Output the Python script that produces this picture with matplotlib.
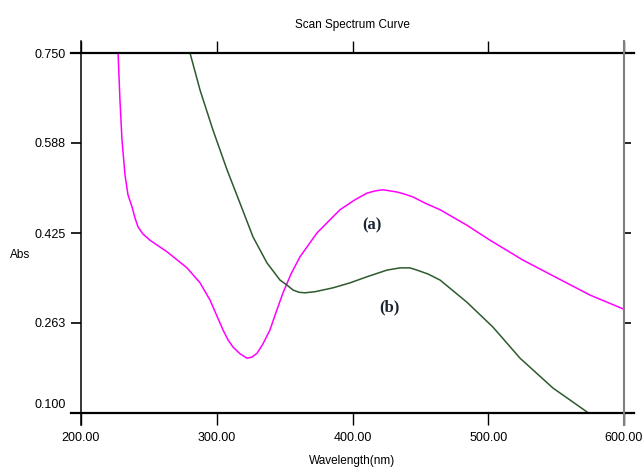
import matplotlib
matplotlib.use("Agg")
from matplotlib import pyplot as plt
from matplotlib.lines import Line2D
from matplotlib.transforms import ScaledTranslation

plt.rcParams['font.family'] = ['Liberation Sans Narrow', 'Liberation Sans', 'DejaVu Sans']

# curve (a) - magenta
wl_a = [227.3, 228.7, 230.2, 232.4, 234.6, 237.6, 239.8, 242.0, 245.7, 250.8, 263.4,
        278.1, 287.7, 295.0, 304.6, 308.3, 312.0, 317.1, 322.3, 326.0, 329.7, 334.1,
        339.2, 343.7, 348.8, 354.7, 361.3, 373.8, 390.8, 401.8, 410.7, 416.6, 422.5,
        427.7, 432.8, 438.7, 444.6, 453.4, 464.5, 484.3, 501.3, 525.6, 550.6, 574.9,
        599.3]
abs_a = [0.750, 0.665, 0.593, 0.530, 0.494, 0.472, 0.452, 0.436, 0.423, 0.412, 0.391,
         0.362, 0.335, 0.304, 0.250, 0.232, 0.219, 0.207, 0.199, 0.201, 0.208, 0.225,
         0.250, 0.282, 0.317, 0.351, 0.382, 0.425, 0.467, 0.485, 0.497, 0.501, 0.503,
         0.501, 0.499, 0.495, 0.490, 0.479, 0.467, 0.439, 0.412, 0.376, 0.344, 0.313,
         0.288]

# curve (b) - dark green
wl_b = [280.3, 287.7, 297.2, 307.6, 317.1, 326.7, 337.0, 346.6, 351.7, 356.2, 360.6,
        365.0, 372.4, 385.6, 398.2, 410.7, 425.4, 435.0, 442.4, 447.5, 455.6, 464.5,
        484.3, 503.5, 523.4, 547.7, 572.7]
abs_b = [0.750, 0.683, 0.611, 0.539, 0.479, 0.418, 0.371, 0.340, 0.331, 0.322, 0.318,
         0.317, 0.319, 0.326, 0.335, 0.346, 0.358, 0.362, 0.362, 0.358, 0.351, 0.340,
         0.300, 0.255, 0.199, 0.145, 0.102]

xticks = [200, 300, 400, 500, 600]
yticks = [0.750, 0.588, 0.425, 0.263, 0.100]

fig = plt.figure(figsize=(6.43, 4.71), dpi=100)
ax = fig.add_axes([81 / 643, 1 - 413 / 471, 543 / 643, 360 / 471])

ax.plot(wl_a, abs_a, color='#ff00ff', lw=1.1)
ax.plot(wl_b, abs_b, color='#2d5a2d', lw=1.1)

ax.set_xlim(200, 600)
ax.set_ylim(0.100, 0.750)

for s in ax.spines.values():
    s.set_visible(False)

# frame lines drawn by hand, they stick out a bit like the original
tr = ax.transAxes
ext = 10 / 543
ax.add_line(Line2D([-ext, 1 + ext], [1, 1], transform=tr, color='black', lw=1.6, clip_on=False))
ax.add_line(Line2D([-ext, 1 + ext], [0, 0], transform=tr, color='black', lw=1.6, clip_on=False))
vext = 12 / 360
ax.add_line(Line2D([0, 0], [-vext, 1 + vext], transform=tr, color='black', lw=1.1, clip_on=False))
ax.add_line(Line2D([1, 1], [-vext, 1 + vext], transform=tr, color='#808080', lw=1.5, clip_on=False))

ax.set_xticks(xticks)
ax.set_xticklabels(['%.2f' % v for v in xticks])
ax.set_yticks(yticks)
ax.set_yticklabels(['%.3f' % v for v in yticks])

ax.tick_params(axis='x', direction='out', length=8.5, width=1.0, top=True, bottom=True,
               pad=5, labelsize=9, color='black')
ax.tick_params(axis='y', direction='out', length=7, width=1.2, left=True, right=True,
               pad=4, labelsize=9, color='black')
for t in ax.yaxis.get_major_ticks():
    t.tick2line.set_color('#808080')
    t.tick2line.set_markersize(5)
# no separate tick at 0.100, the bottom line serves as one; label sits a little higher
last = ax.yaxis.get_major_ticks()[-1]
last.tick1line.set_visible(False)
last.tick2line.set_visible(False)
lab = ax.get_yticklabels()[-1]
lab.set_transform(lab.get_transform() + ScaledTranslation(0, 10 / 100, fig.dpi_scale_trans))

ax.set_title('Scan Spectrum Curve', fontsize=8.5, pad=18)
ax.set_xlabel('Wavelength(nm)', fontsize=8.5, labelpad=8)
fig.text(20 / 643, 1 - 255 / 471, 'Abs', fontsize=8.5, ha='center', va='center')

ax.text(414, 0.438, '(a)', fontsize=12, fontweight='bold', family='Liberation Serif',
        color='#1c2433', ha='center', va='center')
ax.text(427, 0.290, '(b)', fontsize=12, fontweight='bold', family='Liberation Serif',
        color='#1c2433', ha='center', va='center')

fig.savefig('out.png', dpi=100)
